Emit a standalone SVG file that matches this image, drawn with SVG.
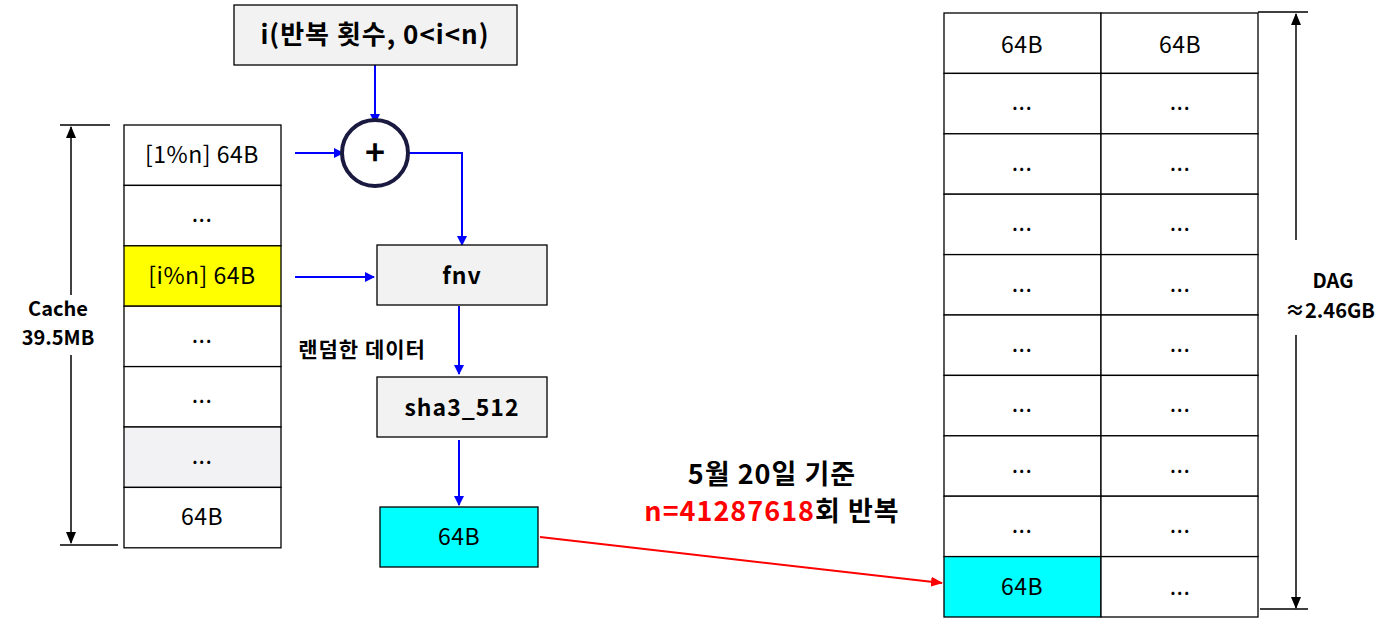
<svg xmlns="http://www.w3.org/2000/svg" width="1400" height="625" viewBox="0 0 1400 625">
<defs>
<style>
text{font-family:"Malgun Gothic","Noto Sans CJK KR","Noto Sans",sans-serif;fill:#000;text-anchor:middle}
.c{fill:#fff;stroke:#000;stroke-width:1.3}
.b{fill:#f2f2f2;stroke:#000;stroke-width:1.3}
.t{font-size:23px;letter-spacing:0.5px}
.bt{font-size:23px;font-weight:bold;letter-spacing:1px}
.bl{stroke:#0000ff;stroke-width:2;fill:none;marker-end:url(#ab)}
.k{stroke:#000;stroke-width:1.5;fill:none}
</style>
<marker id="ab" markerWidth="10" markerHeight="10" refX="9" refY="5" orient="auto" markerUnits="userSpaceOnUse"><path d="M0,0L10,5L0,10z" fill="#0000ff"/></marker>
<marker id="ak" markerWidth="12" markerHeight="12" refX="11" refY="6" orient="auto" markerUnits="userSpaceOnUse"><path d="M0,1L12,6L0,11z" fill="#000"/></marker>
<marker id="ar" markerWidth="12" markerHeight="10" refX="11" refY="5" orient="auto" markerUnits="userSpaceOnUse"><path d="M0,0L12,5L0,10z" fill="#ff0000"/></marker>
</defs>
<g id="connectors">
<path class="bl" d="M375,65V123"/>
<path class="bl" d="M295,153H343"/>
<path class="bl" d="M408,153H462V245"/>
<path class="bl" d="M295,277H374"/>
<path class="bl" d="M459,306V374"/>
<path class="bl" d="M459,440V505"/>
<path d="M540,537L942,583" stroke="#ff0000" stroke-width="2" marker-end="url(#ar)"/>
<path class="k" d="M60,125H110M60,545H118"/>
<path class="k" d="M71,295V127" marker-end="url(#ak)"/>
<path class="k" d="M71,355V543" marker-end="url(#ak)"/>
<path class="k" d="M1258,12H1308M1260,609H1308"/>
<path class="k" d="M1296,240V14" marker-end="url(#ak)"/>
<path class="k" d="M1296,335V608" marker-end="url(#ak)"/>
</g>
<g id="top"><rect class="b" x="234" y="5" width="283" height="60"/><text class="bt" x="375" y="44" style="font-size:26px">i(반복 횟수, 0&lt;i&lt;n)</text></g>
<g id="plus"><circle cx="375" cy="153" r="33" fill="#fff" stroke="#1a1a40" stroke-width="4"/><text x="375" y="165" style="font-size:34px;font-weight:bold">+</text></g>
<g id="cache">
<rect class="c" x="124" y="125" width="157" height="60.4"/><text class="t" x="202" y="163">[1%n] 64B</text>
<rect class="c" x="124" y="185.4" width="157" height="60.4"/><text class="t" x="202" y="222">...</text>
<rect class="c" x="124" y="245.8" width="157" height="60.4" style="fill:#ffff00"/><text class="t" x="202" y="284">[i%n] 64B</text>
<rect class="c" x="124" y="306.2" width="157" height="60.4"/><text class="t" x="202" y="343">...</text>
<rect class="c" x="124" y="366.6" width="157" height="60.4"/><text class="t" x="202" y="403">...</text>
<rect class="c" x="124" y="427" width="157" height="60.4" style="fill:#f2f2f5"/><text class="t" x="202" y="464">...</text>
<rect class="c" x="124" y="487.4" width="157" height="60.4"/><text class="t" x="202" y="525">64B</text>
</g>
<g id="cachelabel"><text class="bt" x="58" y="316" style="font-size:20px;letter-spacing:0">Cache</text><text class="bt" x="58" y="345" style="font-size:20px;letter-spacing:0">39.5MB</text></g>
<g id="fnv"><rect class="b" x="377" y="245" width="170" height="60"/><text class="bt" x="462" y="284">fnv</text></g>
<g id="rand"><text class="bt" x="362" y="357" style="font-size:21px">랜덤한 데이터</text></g>
<g id="sha"><rect class="b" x="377" y="377" width="170" height="60"/><text class="bt" x="462" y="416">sha3_512</text></g>
<g id="out"><rect class="c" x="380" y="507" width="158" height="60" style="fill:#00ffff"/><text class="t" x="459" y="545">64B</text></g>
<g id="note"><text class="bt" x="772" y="484" style="font-size:27px">5월 20일 기준</text><text class="bt" x="772" y="521" style="font-size:27px"><tspan fill="#ff0000">n=41287618</tspan>회 반복</text></g>
<g id="dag">
<g fill="#fff" stroke="#000" stroke-width="1.3">
<rect x="944" y="13" width="157" height="60.4"/><rect x="1101" y="13" width="157" height="60.4"/>
<rect x="944" y="73.4" width="157" height="60.4"/><rect x="1101" y="73.4" width="157" height="60.4"/>
<rect x="944" y="133.8" width="157" height="60.4"/><rect x="1101" y="133.8" width="157" height="60.4"/>
<rect x="944" y="194.2" width="157" height="60.4"/><rect x="1101" y="194.2" width="157" height="60.4"/>
<rect x="944" y="254.6" width="157" height="60.4"/><rect x="1101" y="254.6" width="157" height="60.4"/>
<rect x="944" y="315" width="157" height="60.4"/><rect x="1101" y="315" width="157" height="60.4"/>
<rect x="944" y="375.4" width="157" height="60.4"/><rect x="1101" y="375.4" width="157" height="60.4"/>
<rect x="944" y="435.8" width="157" height="60.4"/><rect x="1101" y="435.8" width="157" height="60.4"/>
<rect x="944" y="496.2" width="157" height="60.4"/><rect x="1101" y="496.2" width="157" height="60.4"/>
<rect x="944" y="556.6" width="157" height="60.4" fill="#00ffff"/><rect x="1101" y="556.6" width="157" height="60.4"/>
</g>
<g>
<text class="t" x="1022" y="53">64B</text><text class="t" x="1180" y="53">64B</text>
<text class="t" x="1022" y="110">...</text><text class="t" x="1180" y="110">...</text>
<text class="t" x="1022" y="171">...</text><text class="t" x="1180" y="171">...</text>
<text class="t" x="1022" y="231">...</text><text class="t" x="1180" y="231">...</text>
<text class="t" x="1022" y="292">...</text><text class="t" x="1180" y="292">...</text>
<text class="t" x="1022" y="352">...</text><text class="t" x="1180" y="352">...</text>
<text class="t" x="1022" y="412">...</text><text class="t" x="1180" y="412">...</text>
<text class="t" x="1022" y="473">...</text><text class="t" x="1180" y="473">...</text>
<text class="t" x="1022" y="533">...</text><text class="t" x="1180" y="533">...</text>
<text class="t" x="1022" y="595">64B</text><text class="t" x="1180" y="595">...</text>
</g>
</g>
<g id="daglabel"><text class="bt" x="1333" y="288" style="font-size:20px;letter-spacing:0">DAG</text><text class="bt" x="1330" y="318" style="font-size:20px;letter-spacing:0">≈2.46GB</text></g>
</svg>
